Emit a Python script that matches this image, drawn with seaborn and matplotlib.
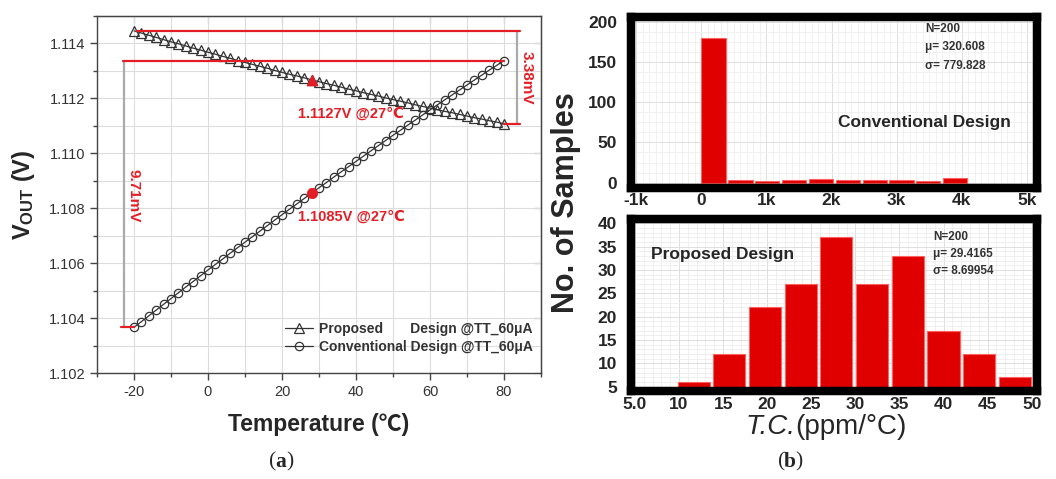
import matplotlib
matplotlib.use("Agg")
import matplotlib.pyplot as plt
import seaborn as sns
from matplotlib.ticker import MultipleLocator, FormatStrFormatter

# ---------------- data ----------------
temperature = [-20, -18, -16, -14, -12, -10, -8, -6, -4, -2, 0, 2, 4, 6, 8, 10, 12, 14, 16,
               18, 20, 22, 24, 26, 28, 30, 32, 34, 36, 38, 40, 42, 44, 46, 48, 50, 52, 54,
               56, 58, 60, 62, 64, 66, 68, 70, 72, 74, 76, 78, 80]
v_proposed = [1.11446, 1.11438, 1.11430, 1.11422, 1.11414, 1.11406, 1.11399, 1.11391, 1.11383, 1.11376,
              1.11368, 1.11361, 1.11353, 1.11346, 1.11338, 1.11331, 1.11324, 1.11317, 1.11310, 1.11302,
              1.11295, 1.11288, 1.11282, 1.11275, 1.11268, 1.11261, 1.11254, 1.11248, 1.11241, 1.11234,
              1.11228, 1.11221, 1.11215, 1.11209, 1.11202, 1.11196, 1.11190, 1.11184, 1.11177, 1.11171,
              1.11165, 1.11159, 1.11153, 1.11148, 1.11142, 1.11136, 1.11130, 1.11125, 1.11119, 1.11114,
              1.11108]
v_conventional = [1.10367, 1.10388, 1.10409, 1.10430, 1.10451, 1.10472, 1.10493, 1.10514, 1.10534, 1.10555,
                  1.10576, 1.10596, 1.10616, 1.10637, 1.10657, 1.10677, 1.10697, 1.10717, 1.10737, 1.10757,
                  1.10777, 1.10797, 1.10816, 1.10836, 1.10856, 1.10875, 1.10894, 1.10914, 1.10933, 1.10952,
                  1.10971, 1.10990, 1.11009, 1.11028, 1.11047, 1.11066, 1.11084, 1.11103, 1.11121, 1.11140,
                  1.11158, 1.11177, 1.11195, 1.11213, 1.11231, 1.11249, 1.11267, 1.11285, 1.11303, 1.11320,
                  1.11338]
legend_labels = ["Proposed       Design @TT_60\u03bcA", "Conventional Design @TT_60\u03bcA"]
highlight_temp = 28
highlight_text_prop = "1.1127V @27\u2103"
highlight_text_conv = "1.1085V @27\u2103"
span_text_prop = "3.38mV"
span_text_conv = "9.71mV"

conv_bin_centers = [190, 602, 1014, 1426, 1838, 2250, 2662, 3074, 3486, 3898]
conv_counts = [180, 3, 2, 3, 4, 3, 3, 3, 2, 6]
conv_xticks = [-1000, 0, 1000, 2000, 3000, 4000, 5000]
conv_xticklabels = ["-1k", "0", "1k", "2k", "3k", "4k", "5k"]
conv_yticks = [0, 50, 100, 150, 200]
conv_stats = ["N=200", "\u03bc= 320.608", "\u03c3= 779.828"]

prop_bin_centers = [11.65, 15.7, 19.75, 23.8, 27.85, 31.9, 35.95, 40.0, 44.05, 48.1]
prop_counts = [6, 12, 22, 27, 37, 27, 33, 17, 12, 7]
prop_xticks = [5, 10, 15, 20, 25, 30, 35, 40, 45, 50]
prop_xticklabels = ["5.0", "10", "15", "20", "25", "30", "35", "40", "45", "50"]
prop_yticks = [5, 10, 15, 20, 25, 30, 35, 40]
prop_stats = ["N=200", "\u03bc= 29.4165", "\u03c3= 8.69954"]

# ---------------- style ----------------
sns.set_style("white")
plt.rcParams["font.family"] = ["Liberation Sans", "DejaVu Sans", "Noto Sans CJK SC"]
plt.rcParams["mathtext.fontset"] = "custom"
plt.rcParams["mathtext.rm"] = "Liberation Sans"
plt.rcParams["mathtext.bf"] = "Liberation Sans:bold"
plt.rcParams["mathtext.it"] = "Liberation Sans:italic"
plt.rcParams["axes.unicode_minus"] = False

RED = "#e41e26"
W, H = 1056, 479


def rect(x0, y0, x1, y1):
    return [x0 / W, 1 - y1 / H, (x1 - x0) / W, (y1 - y0) / H]


def ftext(x, y, s, **kw):
    return fig.text(x / W, 1 - y / H, s, **kw)


fig = plt.figure(figsize=(W / 100, H / 100), dpi=100)

# ---------------- (a) ----------------
ax = fig.add_axes(rect(97, 16, 541, 373.3))
ax.set_axisbelow(True)
ax.grid(True, which="both", color="#dcdcdc", lw=0.8)

sns.lineplot(x=temperature, y=v_proposed, ax=ax, color="#333333", linewidth=0.9,
             marker="^", markersize=6.5, markerfacecolor="none",
             markeredgecolor="#333333", markeredgewidth=0.9, label=legend_labels[0])
sns.lineplot(x=temperature, y=v_conventional, ax=ax, color="#333333", linewidth=0.9,
             marker="o", markersize=6, markerfacecolor="none",
             markeredgecolor="#333333", markeredgewidth=0.9, label=legend_labels[1])

hi = temperature.index(highlight_temp)
sns.scatterplot(x=[temperature[hi]], y=[v_proposed[hi]], ax=ax, marker="^", s=60,
                color=RED, edgecolor=RED, zorder=5, legend=False)
sns.scatterplot(x=[temperature[hi]], y=[v_conventional[hi]], ax=ax, marker="o", s=55,
                color=RED, edgecolor=RED, zorder=5, legend=False)

# span annotations
ax.plot([-19.1, 84.3], [v_proposed[0]] * 2, color=RED, lw=1.6, zorder=3)
ax.plot([80, 84.3], [v_proposed[-1]] * 2, color=RED, lw=1.6, zorder=3)
ax.plot([83.4] * 2, [v_proposed[-1], v_proposed[0] - 0.00004], color="#aaaaaa", lw=1.6, zorder=2)
ax.plot([-23.1, 80], [v_conventional[-1]] * 2, color=RED, lw=1.6, zorder=3)
ax.plot([-23.6, -20], [v_conventional[0]] * 2, color=RED, lw=1.6, zorder=3)
ax.plot([-22.7] * 2, [v_conventional[0], v_conventional[-1] - 0.00004], color="#aaaaaa", lw=1.6, zorder=2)

ax.text(86.2, (v_proposed[0] + v_proposed[-1]) / 2, span_text_prop, rotation=-90, color=RED,
        fontsize=11, fontweight="bold", ha="center", va="center")
ax.text(-20.0, 1.10847, span_text_conv, rotation=-90, color=RED,
        fontsize=11, fontweight="bold", ha="center", va="center")
ax.text(24.2, 1.11145, highlight_text_prop, color=RED, fontsize=10.5, fontweight="bold",
        ha="left", va="center")
ax.text(24.2, 1.10771, highlight_text_conv, color=RED, fontsize=10.5, fontweight="bold",
        ha="left", va="center")

ax.set_xlim(-30, 90)
ax.set_ylim(1.102, 1.115)
ax.xaxis.set_major_locator(MultipleLocator(20))
ax.xaxis.set_minor_locator(MultipleLocator(10))
ax.yaxis.set_major_locator(MultipleLocator(0.002))
ax.yaxis.set_minor_locator(MultipleLocator(0.001))
ax.yaxis.set_major_formatter(FormatStrFormatter("%.3f"))
ax.tick_params(which="major", direction="out", length=5, width=1, color="#444444",
               labelsize=10.5, labelcolor="#333333", bottom=True, left=True)
ax.tick_params(which="minor", direction="out", length=3, width=1, color="#444444",
               bottom=True, left=True)
for s in ax.spines.values():
    s.set_color("#444444")
    s.set_linewidth(1.0)

secx = ax.secondary_xaxis("top")
secx.xaxis.set_major_locator(MultipleLocator(20))
secx.xaxis.set_minor_locator(MultipleLocator(10))
secx.tick_params(which="both", direction="in", labeltop=False, color="#444444")
secx.tick_params(which="major", length=5)
secx.tick_params(which="minor", length=3)
secy = ax.secondary_yaxis("right")
secy.yaxis.set_major_locator(MultipleLocator(0.002))
secy.yaxis.set_minor_locator(MultipleLocator(0.001))
secy.tick_params(which="both", direction="in", labelright=False, color="#444444")
secy.tick_params(which="major", length=5)
secy.tick_params(which="minor", length=3)

ax.set_xlabel("Temperature (\u2103)", fontsize=16.5, fontweight="bold", labelpad=10,
              family=["Liberation Sans", "Noto Sans CJK SC", "DejaVu Sans"])
ax.set_ylabel(r"$\mathbf{V}_{\mathbf{OUT}}$ (V)", fontsize=17, fontweight="bold", labelpad=8)

leg = ax.legend(loc="lower right", bbox_to_anchor=(1.0, 0.03), frameon=False,
                prop={"weight": "bold", "size": 10}, handlelength=2.0, handletextpad=0.4,
                labelspacing=0.3, borderaxespad=0.2)
for t in leg.get_texts():
    t.set_color("#333333")


# ---------------- (b) ----------------
def style_hist(a, yticks):
    a.set_axisbelow(True)
    for s in a.spines.values():
        s.set_color("black")
        s.set_linewidth(6.1)
    a.set_xlabel("")
    a.set_ylabel("")
    a.set_yticks(yticks, [str(v) for v in yticks], fontsize=12.5, fontweight="bold")
    a.tick_params(which="both", length=0)
    a.tick_params(axis="y", pad=10)
    a.tick_params(axis="x", pad=4)


ax_t = fig.add_axes(rect(631, 17.5, 1037, 187.5))
sns.barplot(x=conv_bin_centers, y=conv_counts, ax=ax_t, native_scale=True, width=0.9,
            color="#e00000", edgecolor="#ff6060", linewidth=0.8, errorbar=None, saturation=1)
ax_t.set_xlim(-1077, 5153)
ax_t.set_ylim(-6, 205.2)
ax_t.xaxis.set_minor_locator(MultipleLocator(100))
ax_t.yaxis.set_minor_locator(MultipleLocator(12.5))
ax_t.grid(True, which="minor", color="#efefef", lw=0.6)
ax_t.xaxis.set_major_locator(MultipleLocator(200))
ax_t.grid(True, which="major", color="#dedede", lw=0.7)
ax_t.set_xticks(conv_xticks, conv_xticklabels, fontsize=12.5, fontweight="bold")
style_hist(ax_t, conv_yticks)
for i, line in enumerate(conv_stats):
    ftext(925, 31.5 + 18.7 * i, line, fontsize=8.5, fontweight="bold", color="#333333",
          ha="left", va="baseline")
ftext(924, 123, "Conventional Design", fontsize=12.5, fontweight="bold",
      ha="center", va="center")

ax_b = fig.add_axes(rect(631, 219, 1037, 391))
sns.barplot(x=prop_bin_centers, y=prop_counts, ax=ax_b, native_scale=True, width=0.9,
            color="#e00000", edgecolor="#ff6060", linewidth=0.8, errorbar=None, saturation=1)
ax_b.set_xlim(4.55, 50.6)
ax_b.set_ylim(4.08, 40.92)
ax_b.xaxis.set_minor_locator(MultipleLocator(1))
ax_b.yaxis.set_minor_locator(MultipleLocator(1))
ax_b.grid(True, which="minor", color="#ececec", lw=0.6)
ax_b.grid(True, which="major", color="#dedede", lw=0.7)
ax_b.set_xticks(prop_xticks, prop_xticklabels, fontsize=12.5, fontweight="bold")
style_hist(ax_b, prop_yticks)
for i, line in enumerate(prop_stats):
    ftext(933, 240 + 17.2 * i, line, fontsize=8.5, fontweight="bold", color="#333333",
          ha="left", va="baseline")
ftext(723, 255, "Proposed Design", fontsize=12.5, fontweight="bold",
      ha="center", va="center")

ftext(566, 203, "No. of Samples", rotation=90, fontsize=22, fontweight="bold",
      ha="center", va="center")
ftext(795, 434, "T.C.", fontsize=20, style="italic", ha="right", va="baseline")
ftext(795, 434, "(ppm/\u00b0C)", fontsize=20, ha="left", va="baseline")

# ---------------- captions ----------------
for cx, letter in [(281, "a"), (790, "b")]:
    ftext(cx, 462, letter, family="Liberation Serif", fontweight="bold",
          fontsize=15.5, ha="center", va="center")
    ftext(cx - 5, 462, "(", family="Liberation Serif", fontsize=15.5, ha="right", va="center")
    ftext(cx + 5, 462, ")", family="Liberation Serif", fontsize=15.5, ha="left", va="center")

fig.savefig("out.png", dpi=100)
